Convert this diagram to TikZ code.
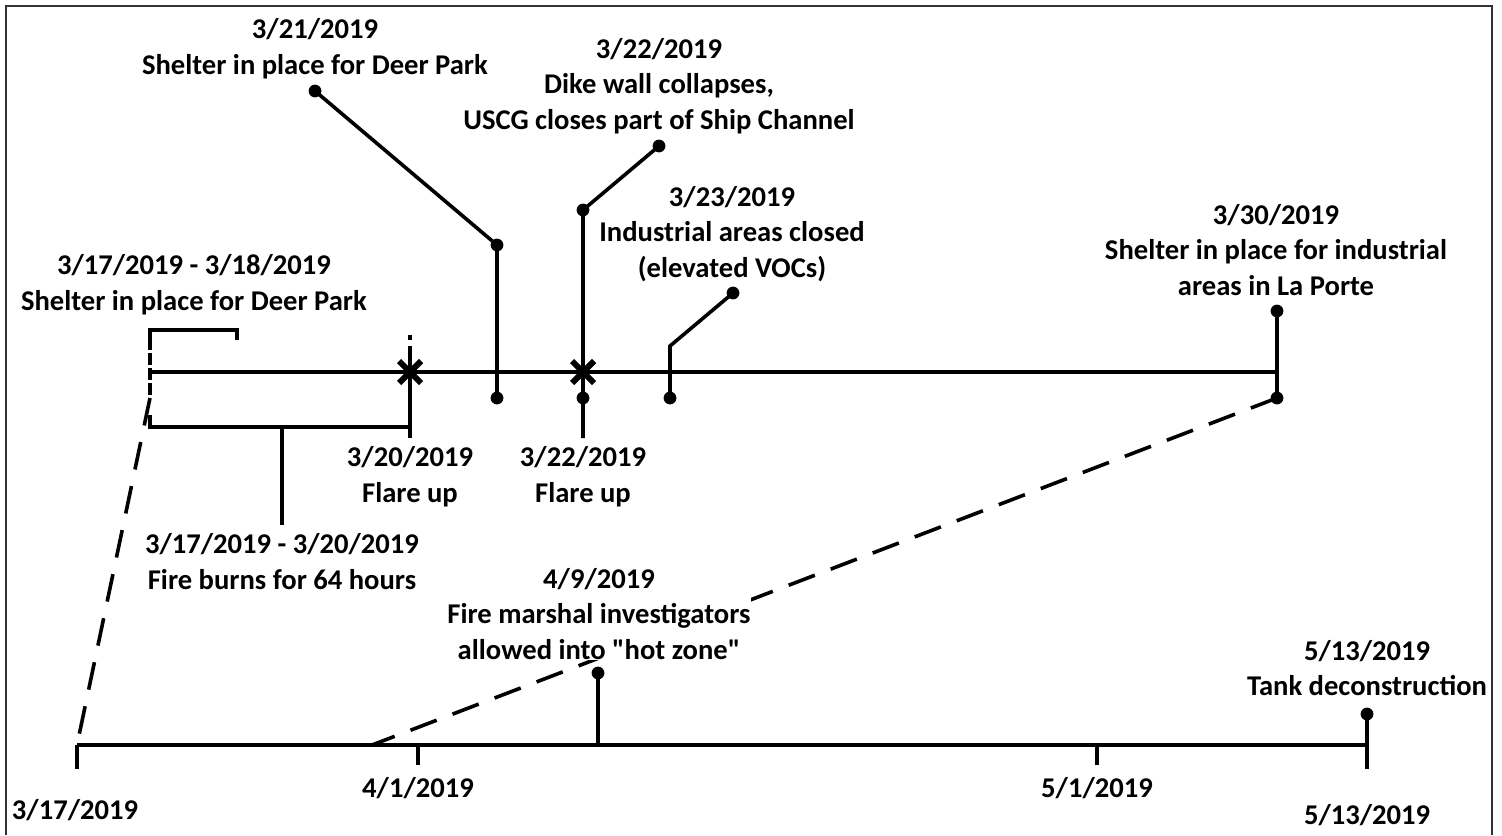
\documentclass[tikz,border=0pt]{standalone}
\usepackage{fontspec}
\setmainfont{Carlito}[Ligatures=TeXOff]
\usetikzlibrary{positioning,shapes.misc}

\begin{document}
\begin{tikzpicture}[
  x=0.5pt,y=-0.5pt,
  axis/.style={line width=2pt},
  stem/.style={line width=1.8pt},
  guide/.style={line width=1.8pt,dash pattern=on 14pt off 8.5pt},
  dot/.style={circle,fill=black,inner sep=0pt,minimum size=6.4pt},
  flare/.style={cross out,draw,line width=3pt,minimum size=8pt,inner sep=0pt},
  lbl/.style={font=\fontsize{14.3}{17.8}\selectfont\bfseries,align=center,inner sep=0pt}
]
\useasboundingbox (0,0) rectangle (1502,835);
\draw[black!80,line width=1pt] (6,835) -- (6,6) -- (1492,6) -- (1492,835);

% top timeline (3/17 - 3/30)
\coordinate (t317) at (150,372);
\coordinate (t330) at (1277,372);
\draw[axis] (t317) -- (t330);
\draw[stem,dash pattern=on 6pt off 1.5pt] (150,338) -- (150,398);

% 3/17 - 3/18 shelter bracket
\coordinate (s317) at (150,340);
\coordinate (s318) at (237,340);
\draw[stem] (s317) -- ++(0,-10) -| (s318);
\node[lbl] (shelterA) at (194,285) {3/17/2019 - 3/18/2019\\Shelter in place for Deer Park};

% 3/17 - 3/20 fire bracket
\coordinate (b317) at (150,415);
\coordinate (b320) at (410,427);
\coordinate (bmid) at (282,427);
\coordinate (bend) at (282,525);
\draw[stem] (b317) |- (b320);
\draw[stem] (bmid) -- (bend);
\node[lbl,below=4pt of bend] (fire) {3/17/2019 - 3/20/2019\\Fire burns for 64 hours};

% 3/20 flare up
\node[flare] (x320) at (410,372) {};
\coordinate (f320top) at (410,346);
\coordinate (f320bot) at (410,438);
\draw[stem] (f320top) -- (f320bot);
\draw[stem] (410,335) -- (410,340);
\node[lbl,below=4pt of f320bot] (flareA) {3/20/2019\\Flare up};

% 3/21 shelter
\node[dot] (d321a) at (315,91) {};
\node[dot] (d321b) at (497,245) {};
\node[dot] (d321c) at (497,398) {};
\draw[stem] (d321a.center) -- (d321b.center) -- (d321c.center);
\node[lbl] (shelterB) at (315,49) {3/21/2019\\Shelter in place for Deer Park};

% 3/22 dike wall + flare up
\node[dot] (d322a) at (659,146) {};
\node[dot] (d322b) at (583,210) {};
\node[dot] (d322c) at (583,398) {};
\coordinate (f322bot) at (583,438);
\draw[stem] (d322a.center) -- (d322b.center) -- (f322bot);
\node[flare] (x322) at (583,372) {};
\node[lbl] (dike) at (659,86) {3/22/2019\\Dike wall collapses,\\USCG closes part of Ship Channel};
\node[lbl,below=4pt of f322bot] (flareB) {3/22/2019\\Flare up};

% 3/23 industrial areas
\node[dot] (d323a) at (733,293) {};
\coordinate (d323b) at (670,346);
\node[dot] (d323c) at (670,398) {};
\draw[stem] (d323a.center) -- (d323b) -- (d323c.center);
\node[lbl] (indus) at (732,234) {3/23/2019\\Industrial areas closed\\(elevated VOCs)};

% 3/30 shelter La Porte
\node[dot] (d330a) at (1277,311) {};
\node[dot] (d330b) at (1277,398) {};
\draw[stem] (d330a.center) -- (d330b.center);
\node[lbl] (laporte) at (1276,250) {3/30/2019\\Shelter in place for industrial\\areas in La Porte};

% bottom timeline (3/17 - 5/13)
\coordinate (a317) at (77,745);
\coordinate (a330) at (372,745);
\coordinate (a401) at (418,745);
\coordinate (a409) at (598,745);
\coordinate (a501) at (1097,745);
\coordinate (a513) at (1367,745);
\draw[axis] (a317) -- (a513);
\draw[axis] (a317) -- ++(0,24);
\draw[axis] (a401) -- ++(0,20);
\draw[axis] (a501) -- ++(0,20);
\draw[axis] (a513) -- ++(0,24);
\node[lbl] (l317) at (75,810) {3/17/2019};
\node[lbl] (l401) at (418,788) {4/1/2019};
\node[lbl] (l501) at (1097,788) {5/1/2019};
\node[lbl] (l513) at (1367,815) {5/13/2019};

% zoom guides
\draw[guide] (150,398) -- (a317);
\draw[guide] (d330b.center) -- (a330);

% 4/9 fire marshal
\node[dot] (d409) at (598,673) {};
\draw[stem] (d409.center) -- (a409);
\node[lbl,fill=white] (marshal) at (599,614) {4/9/2019\\Fire marshal investigators\\allowed into "hot zone"};

% 5/13 tank deconstruction
\node[dot] (d513) at (1367,714) {};
\draw[stem] (d513.center) -- (a513);
\node[lbl] (tank) at (1367,668) {5/13/2019\\Tank deconstruction};
\end{tikzpicture}
\end{document}
